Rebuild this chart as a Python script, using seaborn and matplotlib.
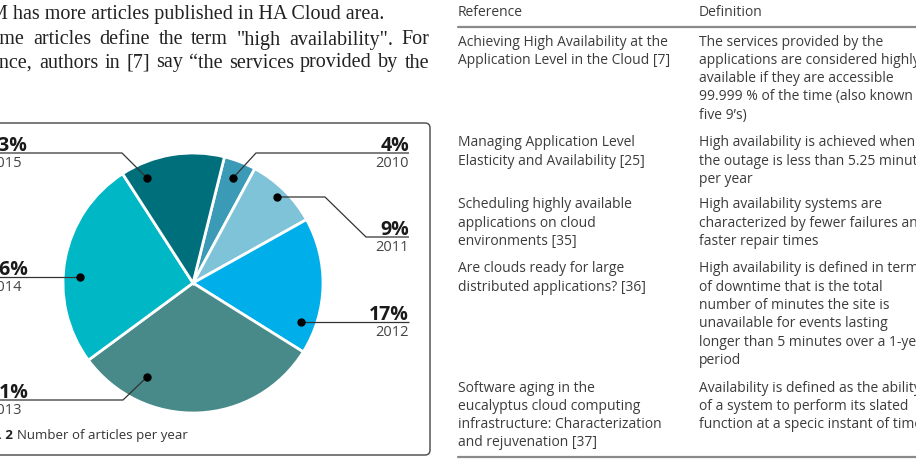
import matplotlib.pyplot as plt
import seaborn as sns
from matplotlib.patches import FancyBboxPatch

# pie data
years = ['2010', '2011', '2012', '2013', '2014', '2015']
shares = [4, 9, 17, 31, 26, 13]
colors = ['#3b9ab5', '#7fc3d8', '#00aeea', '#478a89', '#00b7c5', '#006f7c']

# table data
refs = [
    ['Achieving High Availability at the', 'Application Level in the Cloud [7]'],
    ['Managing Application Level', 'Elasticity and Availability [25]'],
    ['Scheduling highly available', 'applications on cloud', 'environments [35]'],
    ['Are clouds ready for large', 'distributed applications? [36]'],
    ['Software aging in the', 'eucalyptus cloud computing',
     'infrastructure: Characterization', 'and rejuvenation [37]'],
]
defs = [
    ['The services provided by the', 'applications are considered highly',
     'available if they are accessible', '99.999 % of the time (also known as',
     'five 9\u2019s)'],
    ['High availability is achieved when', 'the outage is less than 5.25 minutes',
     'per year'],
    ['High availability systems are', 'characterized by fewer failures and',
     'faster repair times'],
    ['High availability is defined in terms', 'of downtime that is the total',
     'number of minutes the site is', 'unavailable for events lasting',
     'longer than 5 minutes over a 1-year', 'period'],
    ['Availability is defined as the ability', 'of a system to perform its slated',
     'function at a specic instant of time'],
]

body = [
    (-38, 15, 'ACM has more articles published in HA Cloud area.', False),
    (-21, 40, 'Some articles define the term "high availability". For', True),
    (-38, 63, 'instance, authors in [7] say \u201cthe services provided by the', True),
]

sns.set_style('white')
plt.rcParams['font.family'] = ['Open Sans', 'DejaVu Sans']

W, H = 916, 462
fig = plt.figure(figsize=(W / 100, H / 100), dpi=100)

# pie
cx, cy, R = 193, 283, 130
pad = 4
pax = fig.add_axes([(cx - R - pad) / W, (H - cy - R - pad) / H,
                    2 * (R + pad) / W, 2 * (R + pad) / H])
pax.pie(shares, colors=colors, startangle=76, counterclock=False, radius=1,
        wedgeprops=dict(edgecolor='white', linewidth=2))
lim = (R + pad) / R
pax.set_xlim(-lim, lim)
pax.set_ylim(-lim, lim)
pax.axis('off')

# overlay in pixel coordinates
ax = fig.add_axes([0, 0, 1, 1])
ax.set_xlim(0, W)
ax.set_ylim(H, 0)
ax.axis('off')
ax.patch.set_alpha(0)

ax.add_patch(FancyBboxPatch((-20, 123), 450, 332,
                            boxstyle='round,pad=0,rounding_size=5',
                            fc='none', ec='#555555', lw=1.1))

# label layout: (side, underline y, leader path from text end to dot)
lead = [
    ('r', 153, [(409, 153), (256, 153), (233, 178)]),
    ('r', 237, [(409, 237), (366, 237), (325, 197), (277, 197)]),
    ('r', 322, [(409, 322), (301, 322)]),
    ('l', 400, [(-12, 400), (123, 400), (147, 377)]),
    ('l', 277, [(-12, 277), (80, 277)]),
    ('l', 153, [(-12, 153), (122, 153), (147, 178)]),
]
for yr, s, (side, uy, path) in zip(years, shares, lead):
    xs = [p[0] for p in path]
    ys = [p[1] for p in path]
    ax.plot(xs, ys, color='#333333', lw=0.9, solid_capstyle='butt')
    ax.plot(xs[-1], ys[-1], 'o', color='black', ms=5)
    tx = 409 if side == 'r' else -12
    ha = 'right' if side == 'r' else 'left'
    ax.text(tx, uy - 2, f'{s}%', ha=ha, va='baseline', fontsize=14,
            fontweight='bold', color='#1a1a1a')
    ax.text(tx, uy + 3, yr, ha=ha, va='top', fontsize=10.5, color='#444444')

# caption
ax.text(-21, 436, 'Fig. 2', ha='left', va='center', fontsize=9.5,
        fontweight='bold', color='#222222')
ax.text(17, 436, 'Number of articles per year', ha='left', va='center',
        fontsize=9.5, color='#333333')

# body text (serif, justified)
fig.canvas.draw()
rend = fig.canvas.get_renderer()
for x0, y, line, just in body:
    if not just:
        ax.text(x0, y, line, ha='left', va='center', fontsize=14.5,
                family='Liberation Serif', color='#222222')
        continue
    words = line.split(' ')
    ts = [ax.text(0, y, w, ha='left', va='center', fontsize=14.5,
                  family='Liberation Serif', color='#222222') for w in words]
    widths = [t.get_window_extent(rend).width for t in ts]
    gap = (429 - x0 - sum(widths)) / (len(words) - 1)
    x = x0
    for t, w in zip(ts, widths):
        t.set_x(x)
        x += w + gap

# table
tc = '#3c3c3c'
xr, xd = 458, 699
step = 18.3
fs = 10
ax.text(xr, 13, 'Reference', ha='left', va='center', fontsize=fs, color=tc)
ax.text(xd, 13, 'Definition', ha='left', va='center', fontsize=fs, color=tc)
ax.plot([xr, W + 5], [27, 27], color='#8a8a8a', lw=1.6)
ax.plot([xr, W + 5], [457, 457], color='#8a8a8a', lw=1.6)
row_y = [42, 143, 205, 269, 388]
for y0, rl, dl in zip(row_y, refs, defs):
    for i, t in enumerate(rl):
        ax.text(xr, y0 + i * step, t, ha='left', va='center', fontsize=fs, color=tc)
    for i, t in enumerate(dl):
        ax.text(xd, y0 + i * step, t, ha='left', va='center', fontsize=fs, color=tc)

fig.savefig('out.png', dpi=100)
